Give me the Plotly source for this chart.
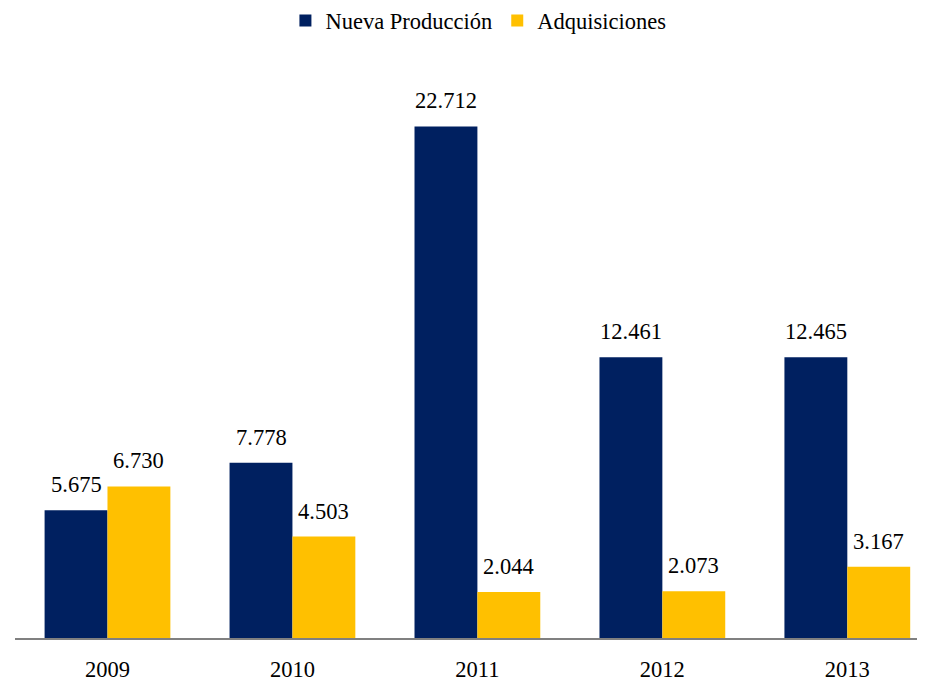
import plotly.graph_objects as go

years = ["2009", "2010", "2011", "2012", "2013"]
nueva = [5675, 7778, 22712, 12461, 12465]
adq = [6730, 4503, 2044, 2073, 3167]

NAVY = "#002060"
GOLD = "#FFC000"
FONT = "Liberation Serif, Times New Roman, serif"
FS = 22.5

fig = go.Figure()
fig.add_trace(go.Bar(name="Nueva Producción", x=years, y=nueva, marker_color=NAVY,
                     marker_line_width=0))
fig.add_trace(go.Bar(name="Adquisiciones", x=years, y=adq, marker_color=GOLD,
                     marker_line_width=0))

annotations = []
for vals, off in ((nueva, -0.17), (adq, 0.17)):
    for i, v in enumerate(vals):
        annotations.append(dict(
            x=i + off, y=v, xref="x", yref="y",
            text=f"{v:,}".replace(",", "."),
            showarrow=False, yanchor="bottom", yshift=11,
            font=dict(family=FONT, size=FS, color="black"),
        ))

fig.update_layout(
    width=917, height=674,
    margin=dict(l=7, r=0, t=52, b=39),
    paper_bgcolor="white", plot_bgcolor="white",
    barmode="group", bargap=0.32, bargroupgap=0,
    font=dict(family=FONT, size=FS, color="black"),
    separators=",.",
    showlegend=True,
    legend=dict(orientation="h", xref="container", yref="container",
                x=0.513, xanchor="center", y=0.981, yanchor="middle",
                font=dict(family=FONT, size=FS), itemwidth=30, traceorder="normal"),
    annotations=annotations,
    xaxis=dict(type="category", range=[-0.5, 4.42], showline=True, linecolor="#808080",
               linewidth=2, ticks="outside", ticklen=10, tickcolor="rgba(0,0,0,0)",
               showgrid=False, tickfont=dict(family=FONT, size=FS)),
    yaxis=dict(range=[0, 25660], visible=False, showgrid=False, zeroline=False),
)

fig.write_html("out.html")
